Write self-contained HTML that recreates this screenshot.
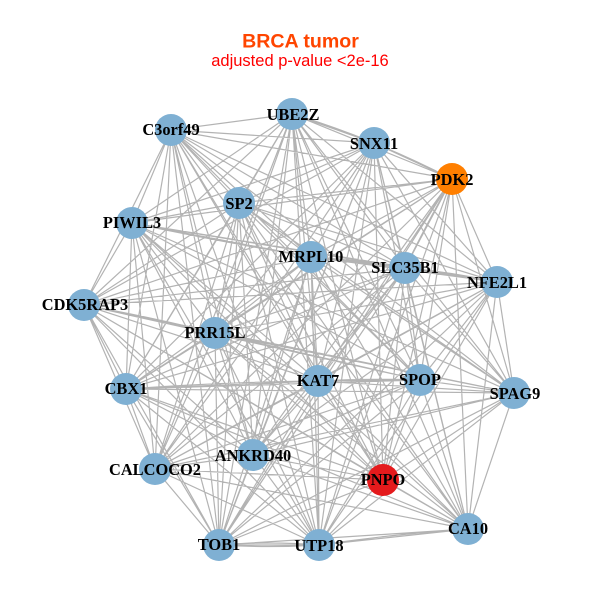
<!DOCTYPE html>
<html><head><meta charset="utf-8"><style>
html,body{margin:0;padding:0;background:#fff}
svg{display:block}
.n text{font:bold 16.4px "Liberation Serif",serif;fill:#000;text-anchor:middle}
</style></head><body>
<svg width="600" height="600" viewBox="0 0 600 600">
<rect width="600" height="600" fill="#fff"/>
<path fill="none" stroke="#b3b3b3" stroke-width="1.2" d="
M171 130L292 114M171 130L374 143M171 130L452 179M171 130L239 203M171 130L132 223M171 130L311 257M171 130L405 268M171 130L497 282M171 130L84 305M171 130L215 333M171 130L126 389M171 130L318 381M171 130L420 380M171 130L514 393M171 130L253 455M171 130L155 469M171 130L383 480M171 130L468 529M171 130L219 545M171 130L319 545
M292 114L374 143M292 114L452 179M292 114L239 203M292 114L132 223M292 114L311 257M292 114L405 268M292 114L497 282M292 114L84 305M292 114L215 333M292 114L126 389M292 114L318 381M292 114L420 380M292 114L514 393M292 114L253 455M292 114L155 469M292 114L383 480M292 114L468 529M292 114L219 545M292 114L319 545
M374 143L452 179M374 143L239 203M374 143L132 223M374 143L311 257M374 143L405 268M374 143L497 282M374 143L84 305M374 143L215 333M374 143L126 389M374 143L318 381M374 143L420 380M374 143L514 393M374 143L253 455M374 143L155 469M374 143L383 480M374 143L468 529M374 143L219 545M374 143L319 545
M452 179L239 203M452 179L132 223M452 179L311 257M452 179L405 268M452 179L497 282M452 179L84 305M452 179L215 333M452 179L126 389M452 179L318 381M452 179L420 380M452 179L514 393M452 179L253 455M452 179L155 469M452 179L383 480M452 179L468 529M452 179L219 545M452 179L319 545
M239 203L132 223M239 203L311 257M239 203L405 268M239 203L497 282M239 203L84 305M239 203L215 333M239 203L126 389M239 203L318 381M239 203L420 380M239 203L514 393M239 203L253 455M239 203L155 469M239 203L383 480M239 203L468 529M239 203L219 545M239 203L319 545
M132 223L311 257M132 223L405 268M132 223L497 282M132 223L84 305M132 223L215 333M132 223L126 389M132 223L318 381M132 223L420 380M132 223L514 393M132 223L253 455M132 223L155 469M132 223L383 480M132 223L468 529M132 223L219 545M132 223L319 545
M311 257L405 268M311 257L497 282M311 257L84 305M311 257L215 333M311 257L126 389M311 257L318 381M311 257L420 380M311 257L514 393M311 257L253 455M311 257L155 469M311 257L383 480M311 257L468 529M311 257L219 545M311 257L319 545
M405 268L497 282M405 268L84 305M405 268L215 333M405 268L126 389M405 268L318 381M405 268L420 380M405 268L514 393M405 268L253 455M405 268L155 469M405 268L383 480M405 268L468 529M405 268L219 545M405 268L319 545
M497 282L84 305M497 282L215 333M497 282L126 389M497 282L318 381M497 282L420 380M497 282L514 393M497 282L253 455M497 282L155 469M497 282L383 480M497 282L468 529M497 282L219 545M497 282L319 545
M84 305L215 333M84 305L126 389M84 305L318 381M84 305L420 380M84 305L514 393M84 305L253 455M84 305L155 469M84 305L383 480M84 305L468 529M84 305L219 545M84 305L319 545
M215 333L126 389M215 333L318 381M215 333L420 380M215 333L514 393M215 333L253 455M215 333L155 469M215 333L383 480M215 333L468 529M215 333L219 545M215 333L319 545
M126 389L318 381M126 389L420 380M126 389L514 393M126 389L253 455M126 389L155 469M126 389L383 480M126 389L468 529M126 389L219 545M126 389L319 545
M318 381L420 380M318 381L514 393M318 381L253 455M318 381L155 469M318 381L383 480M318 381L468 529M318 381L219 545M318 381L319 545
M420 380L514 393M420 380L253 455M420 380L155 469M420 380L383 480M420 380L468 529M420 380L219 545M420 380L319 545
M514 393L253 455M514 393L155 469M514 393L383 480M514 393L468 529M514 393L219 545M514 393L319 545
M253 455L155 469M253 455L383 480M253 455L468 529M253 455L219 545M253 455L319 545
M155 469L383 480M155 469L468 529M155 469L219 545M155 469L319 545
M383 480L468 529M383 480L219 545M383 480L319 545
M468 529L219 545M468 529L319 545
M219 545L319 545
M219 545Q269 541 319 545
M219 545Q269 548 319 545
M319 545Q394 534 468 529
M292 114Q333 126 374 143
M374 143Q413 159 452 179
M132 223Q222 242 311 257
M311 257Q358 260 405 268
M405 268Q451 272 497 282
M126 389Q222 382 318 381
M318 381Q369 378 420 380
M452 179Q428 221 405 268
M84 305Q150 317 215 333"/>
<g fill="#7fb0d3">
<circle cx="171" cy="130" r="16"/><circle cx="292" cy="114" r="16"/><circle cx="374" cy="143" r="16"/>
<circle cx="239" cy="203" r="16"/><circle cx="132" cy="223" r="16"/><circle cx="311" cy="257" r="16"/>
<circle cx="405" cy="268" r="16"/><circle cx="497" cy="282" r="16"/><circle cx="84" cy="305" r="16"/>
<circle cx="215" cy="333" r="16"/><circle cx="126" cy="389" r="16"/><circle cx="318" cy="381" r="16"/>
<circle cx="420" cy="380" r="16"/><circle cx="514" cy="393" r="16"/><circle cx="253" cy="455" r="16"/>
<circle cx="155" cy="469" r="16"/><circle cx="468" cy="529" r="16"/><circle cx="219" cy="545" r="16"/>
<circle cx="319" cy="545" r="16"/>
</g>
<circle cx="452" cy="179" r="16" fill="#ff7f00"/>
<circle cx="383" cy="480" r="16" fill="#e41a1c"/>
<g class="n">
<text x="171" y="135">C3orf49</text>
<text x="293" y="120">UBE2Z</text>
<text x="374" y="149">SNX11</text>
<text x="452" y="185">PDK2</text>
<text x="239" y="209">SP2</text>
<text x="132" y="228">PIWIL3</text>
<text x="311" y="262">MRPL10</text>
<text x="405" y="273">SLC35B1</text>
<text x="497" y="288">NFE2L1</text>
<text x="85" y="310">CDK5RAP3</text>
<text x="215" y="338">PRR15L</text>
<text x="126" y="394">CBX1</text>
<text x="318" y="386">KAT7</text>
<text x="420" y="385">SPOP</text>
<text x="515" y="399">SPAG9</text>
<text x="253" y="461">ANKRD40</text>
<text x="155" y="475">CALCOCO2</text>
<text x="383" y="485">PNPO</text>
<text x="468" y="534">CA10</text>
<text x="219" y="550">TOB1</text>
<text x="319" y="551">UTP18</text>
</g>
<text x="300.5" y="47.5" text-anchor="middle" font-family="Liberation Sans, sans-serif" font-weight="bold" font-size="19.6" fill="#ff4500">BRCA tumor</text>
<text x="300" y="66" text-anchor="middle" font-family="Liberation Sans, sans-serif" font-size="16.5" fill="#ff0000">adjusted p-value &lt;2e-16</text>
</svg>
</body></html>
